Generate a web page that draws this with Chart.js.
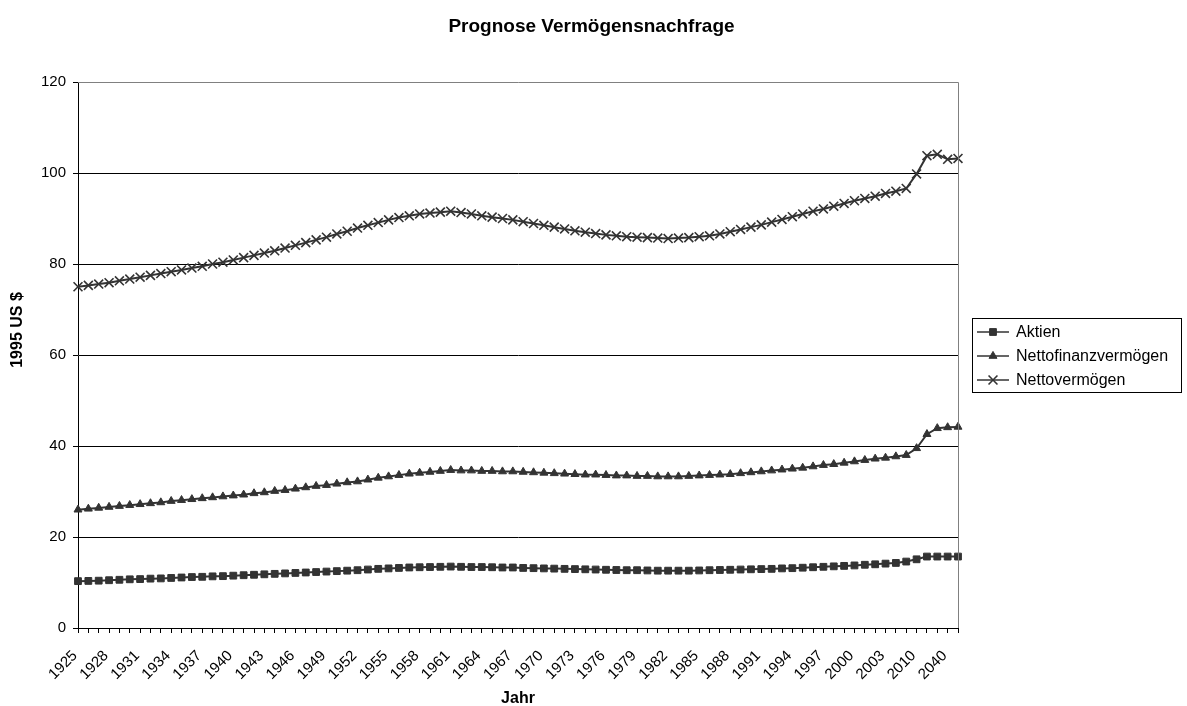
<!DOCTYPE html>
<html>
<head>
<meta charset="utf-8">
<script src="https://cdn.jsdelivr.net/npm/chart.js@4.4.0/dist/chart.umd.min.js"></script>
<style>
  html, body { margin: 0; padding: 0; background: #fff; }
  #wrap { width: 1187px; height: 706px; }
</style>
</head>
<body>
<div id="wrap"><canvas id="canvas1" width="1187" height="706"></canvas></div>
<script>
// Jahre (Kategorien)
const jahre = [1925,1926,1927,1928,1929,1930,1931,1932,1933,1934,1935,1936,1937,1938,1939,
  1940,1941,1942,1943,1944,1945,1946,1947,1948,1949,1950,1951,1952,1953,1954,
  1955,1956,1957,1958,1959,1960,1961,1962,1963,1964,1965,1966,1967,1968,1969,
  1970,1971,1972,1973,1974,1975,1976,1977,1978,1979,1980,1981,1982,1983,1984,
  1985,1986,1987,1988,1989,1990,1991,1992,1993,1994,1995,1996,1997,1998,1999,
  2000,2001,2002,2003,2004,2005,2010,2020,2030,2040,2050];

const aktien = [10.3,10.35,10.4,10.5,10.6,10.7,10.75,10.85,10.9,11.0,11.1,11.2,11.25,11.35,11.4,
  11.5,11.6,11.7,11.8,11.9,12.0,12.1,12.2,12.3,12.4,12.5,12.6,12.7,12.85,13.0,
  13.1,13.2,13.3,13.35,13.4,13.45,13.5,13.45,13.4,13.4,13.35,13.3,13.3,13.2,13.15,
  13.1,13.05,13.0,12.95,12.9,12.85,12.8,12.75,12.7,12.7,12.65,12.6,12.6,12.6,12.6,
  12.65,12.7,12.75,12.8,12.85,12.9,12.95,13.0,13.1,13.15,13.25,13.35,13.45,13.55,13.65,
  13.75,13.9,14.0,14.15,14.3,14.6,15.1,15.7,15.7,15.7,15.7];

const nettofinanz = [26.0,26.2,26.4,26.6,26.8,27.0,27.2,27.4,27.6,27.9,28.1,28.3,28.5,28.7,28.9,
  29.1,29.3,29.6,29.8,30.1,30.3,30.6,30.9,31.2,31.4,31.7,32.0,32.2,32.6,33.0,
  33.3,33.6,33.9,34.1,34.3,34.5,34.7,34.6,34.6,34.5,34.5,34.4,34.4,34.3,34.2,
  34.1,34.0,33.9,33.8,33.7,33.7,33.6,33.5,33.5,33.4,33.4,33.3,33.3,33.3,33.4,
  33.5,33.6,33.7,33.8,34.0,34.2,34.4,34.6,34.8,35.0,35.2,35.5,35.8,36.0,36.3,
  36.6,36.9,37.2,37.4,37.7,38.0,39.5,42.6,43.9,44.1,44.2];

const nettoverm = [75.0,75.3,75.6,75.9,76.3,76.7,77.1,77.5,77.9,78.3,78.7,79.1,79.5,80.0,80.4,
  80.9,81.4,81.9,82.4,82.9,83.5,84.1,84.7,85.3,85.9,86.6,87.2,87.9,88.5,89.1,
  89.7,90.2,90.6,91.0,91.2,91.4,91.6,91.3,91.0,90.6,90.3,90.0,89.7,89.3,88.9,
  88.5,88.1,87.7,87.3,87.0,86.7,86.4,86.2,86.0,85.9,85.8,85.7,85.6,85.7,85.8,
  86.0,86.2,86.6,87.1,87.6,88.1,88.6,89.2,89.8,90.4,91.0,91.6,92.1,92.7,93.3,
  93.9,94.4,94.9,95.5,96.0,96.6,99.8,103.8,104.1,103.0,103.2];

const titel = 'Prognose Vermögensnachfrage';
const xTitel = 'Jahr';
const yTitel = '1995 US $';

const schrift = "'Liberation Sans', Arial, sans-serif";
const dunkel = '#333333';

// Titel, Achsentitel, Rahmen rechts/oben und Legende mit Linie + Marker wie in Excel
const rahmenUndLegende = {
  id: 'rahmenUndLegende',
  afterDraw(chart) {
    const ctx = chart.ctx, a = chart.chartArea;
    ctx.save();
    ctx.strokeStyle = '#808080';
    ctx.lineWidth = 1;
    ctx.beginPath();
    ctx.moveTo(a.left, Math.round(a.top) + 0.5);
    ctx.lineTo(Math.round(a.right) + 0.5, Math.round(a.top) + 0.5);
    ctx.lineTo(Math.round(a.right) + 0.5, a.bottom);
    ctx.stroke();

    // Titel
    ctx.fillStyle = '#000';
    ctx.textAlign = 'center';
    ctx.textBaseline = 'middle';
    ctx.font = 'bold 19px ' + schrift;
    ctx.fillText(titel, chart.width / 2 - 2, 27);

    // Achsentitel
    ctx.font = 'bold 16px ' + schrift;
    ctx.fillText(xTitel, (a.left + a.right) / 2, 699);
    ctx.save();
    ctx.translate(18, 330);
    ctx.rotate(-Math.PI / 2);
    ctx.fillText(yTitel, 0, 0);
    ctx.restore();

    // Legende
    const w = 209, h = 74;
    const x0 = Math.round(a.right) + 14;
    const y0 = Math.round((a.top + a.bottom) / 2 - h / 2);
    ctx.strokeStyle = '#000';
    ctx.lineWidth = 1;
    ctx.strokeRect(x0 + 0.5, y0 + 0.5, w, h);

    ctx.font = '16px ' + schrift;
    ctx.textAlign = 'left';
    chart.data.datasets.forEach((ds, i) => {
      const y = y0 + 14 + i * 24;
      ctx.strokeStyle = dunkel;
      ctx.lineWidth = 1.5;
      ctx.beginPath();
      ctx.moveTo(x0 + 5, y);
      ctx.lineTo(x0 + 37, y);
      ctx.stroke();
      ctx.fillStyle = dunkel;
      ctx.lineWidth = ds.pointBorderWidth;
      Chart.helpers.drawPoint(ctx, {
        pointStyle: ds.pointStyle, radius: ds.pointRadius,
        borderWidth: ds.pointBorderWidth, rotation: 0
      }, x0 + 21, y);
      ctx.fillStyle = '#000';
      ctx.fillText(ds.label, x0 + 44, y + 1);
    });
    ctx.restore();
  }
};

new Chart(document.getElementById('canvas1').getContext('2d'), {
  type: 'line',
  data: {
    labels: jahre,
    datasets: [
      { label: 'Aktien', data: aktien, borderColor: dunkel, backgroundColor: dunkel,
        borderWidth: 2, pointStyle: 'rect', pointRadius: 4.8, pointBorderWidth: 1,
        pointBackgroundColor: dunkel, pointBorderColor: dunkel, tension: 0 },
      { label: 'Nettofinanzvermögen', data: nettofinanz, borderColor: dunkel, backgroundColor: dunkel,
        borderWidth: 2, pointStyle: 'triangle', pointRadius: 4.6, pointBorderWidth: 1,
        pointBackgroundColor: dunkel, pointBorderColor: dunkel, tension: 0 },
      { label: 'Nettovermögen', data: nettoverm, borderColor: dunkel, backgroundColor: dunkel,
        borderWidth: 2, pointStyle: 'crossRot', pointRadius: 6.3, pointBorderWidth: 1.6,
        pointBackgroundColor: dunkel, pointBorderColor: dunkel, tension: 0 }
    ]
  },
  options: {
    responsive: false,
    animation: false,
    events: [],
    devicePixelRatio: 1,
    layout: { padding: { left: 0, right: 229, top: 82, bottom: 0 } },
    plugins: {
      legend: { display: false },
      tooltip: { enabled: false },
      title: { display: false }
    },
    scales: {
      x: {
        offset: false,
        ticks: {
          autoSkip: false, maxRotation: 45, minRotation: 45, padding: 14, labelOffset: -3,
          color: '#000', font: { family: schrift, size: 15 },
          callback: (v, i) => (i % 3 === 0 ? jahre[i] : '')
        },
        grid: { drawOnChartArea: false, drawTicks: true, tickLength: 5, color: '#000' },
        border: { color: '#000', width: 1 },
        afterFit(s) { s.height = 78; }
      },
      y: {
        min: 0, max: 120,
        ticks: { stepSize: 20, padding: 7, color: '#000', font: { family: schrift, size: 15 } },
        grid: {
          color: c => (c.tick && c.tick.value === 120 ? 'rgba(0,0,0,0)' : '#000'),
          tickColor: '#000', tickLength: 5, lineWidth: 1
        },
        border: { color: '#000', width: 1 },
        afterFit(s) { s.width = 78; }
      }
    }
  },
  plugins: [rahmenUndLegende]
});
</script>
</body>
</html>
